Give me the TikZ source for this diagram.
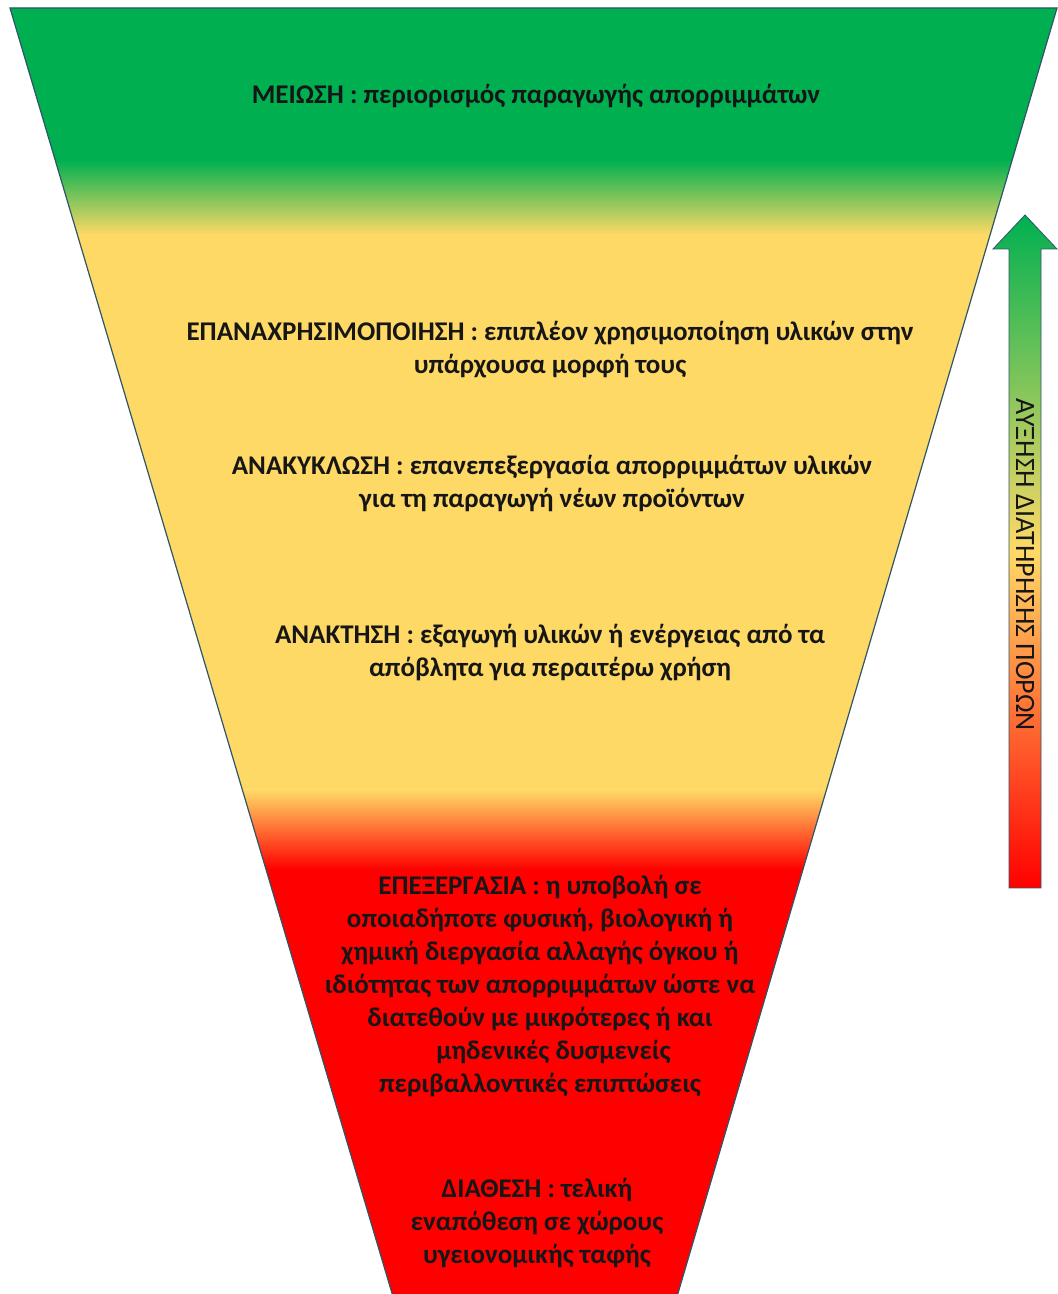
\documentclass[tikz,border=0pt]{standalone}
\usepackage{fontspec}
\setmainfont{Carlito}
\definecolor{wgreen}{RGB}{0,176,80}
\definecolor{wyellow}{RGB}{255,217,102}
\definecolor{wred}{RGB}{255,0,0}
\definecolor{wedge}{RGB}{47,85,105}
\definecolor{wtext}{RGB}{22,22,22}
\tikzset{
	lvl/.style={font={\fontsize{27}{33}\selectfont\bfseries}, text=wtext, inner sep=0pt},
	gain/.style={font={\fontsize{28}{32}\selectfont}, text=wtext, inner sep=0pt, rotate=-90},
	rim/.style={draw=wedge, line width=1.2pt},
	arr/.style={draw=wedge, line width=0.8pt}
}

\begin{document}
\begin{tikzpicture}[x=1pt, y=1pt]
	\useasboundingbox (0,0) rectangle (1058,1294);
	% funnel corners
	\coordinate (tl) at (10,1286);
	\coordinate (tr) at (1057,1286);
	\coordinate (br) at (676,-6);
	\coordinate (bl) at (394,-6);
	\begin{scope}
		\clip (tl) -- (tr) -- (br) -- (bl) -- cycle;
		\fill[wgreen] (0,1133) rectangle (1058,1294);
		\shade[top color=wgreen, bottom color=wyellow] (0,1059) rectangle (1058,1134);
		\fill[wyellow] (0,503) rectangle (1058,1060);
		\shade[top color=wyellow, bottom color=wred] (0,424) rectangle (1058,504);
		\fill[wred] (0,-10) rectangle (1058,425);
	\end{scope}
	\draw[rim] (tl) -- (tr) -- (br) -- (bl) -- cycle;

	% arrow on the right
	\coordinate (tip) at (1025,1079);
	\shade[arr, top color=wgreen, bottom color=wred, middle color=wyellow]
		(1009,406) -- (1009,1045) -- (993,1045) -- (tip) -- (1057,1045)
		-- (1041,1045) -- (1041,406) -- cycle;
	\node[gain] (keep) at (1025,729) {ΑΥΞΗΣΗ ΔΙΑΤΗΡΗΣΗΣ ΠΟΡΩΝ};

	% levels
	\node[lvl] (reduce) at (536,1197) {
		\begin{tabular}{c}
			ΜΕΙΩΣΗ : περιορισμός παραγωγής απορριμμάτων
		\end{tabular}
	};
	\node[lvl] (reuse) at (550,944) {
		\begin{tabular}{c}
			ΕΠΑΝΑΧΡΗΣΙΜΟΠΟΙΗΣΗ : επιπλέον χρησιμοποίηση υλικών στην \\
			υπάρχουσα μορφή τους
		\end{tabular}
	};
	\node[lvl] (recycle) at (552,810) {
		\begin{tabular}{c}
			ΑΝΑΚΥΚΛΩΣΗ : επανεπεξεργασία απορριμμάτων υλικών \\
			για τη παραγωγή νέων προϊόντων
		\end{tabular}
	};
	\node[lvl] (recover) at (550,641) {
		\begin{tabular}{c}
			ΑΝΑΚΤΗΣΗ : εξαγωγή υλικών ή ενέργειας από τα \\
			απόβλητα για περαιτέρω χρήση
		\end{tabular}
	};
	\node[lvl] (treat) at (540,307) {
		\begin{tabular}{c}
			ΕΠΕΞΕΡΓΑΣΙΑ : η υποβολή σε \\
			οποιαδήποτε φυσική, βιολογική ή \\
			χημική διεργασία αλλαγής όγκου ή \\
			ιδιότητας των απορριμμάτων ώστε να \\
			διατεθούν με μικρότερες ή και \\
			\hspace{1em}μηδενικές δυσμενείς \\
			περιβαλλοντικές επιπτώσεις
		\end{tabular}
	};
	\node[lvl] (dispose) at (537,70) {
		\begin{tabular}{c}
			ΔΙΑΘΕΣΗ : τελική \\
			εναπόθεση σε χώρους \\
			υγειονομικής ταφής
		\end{tabular}
	};
\end{tikzpicture}
\end{document}
